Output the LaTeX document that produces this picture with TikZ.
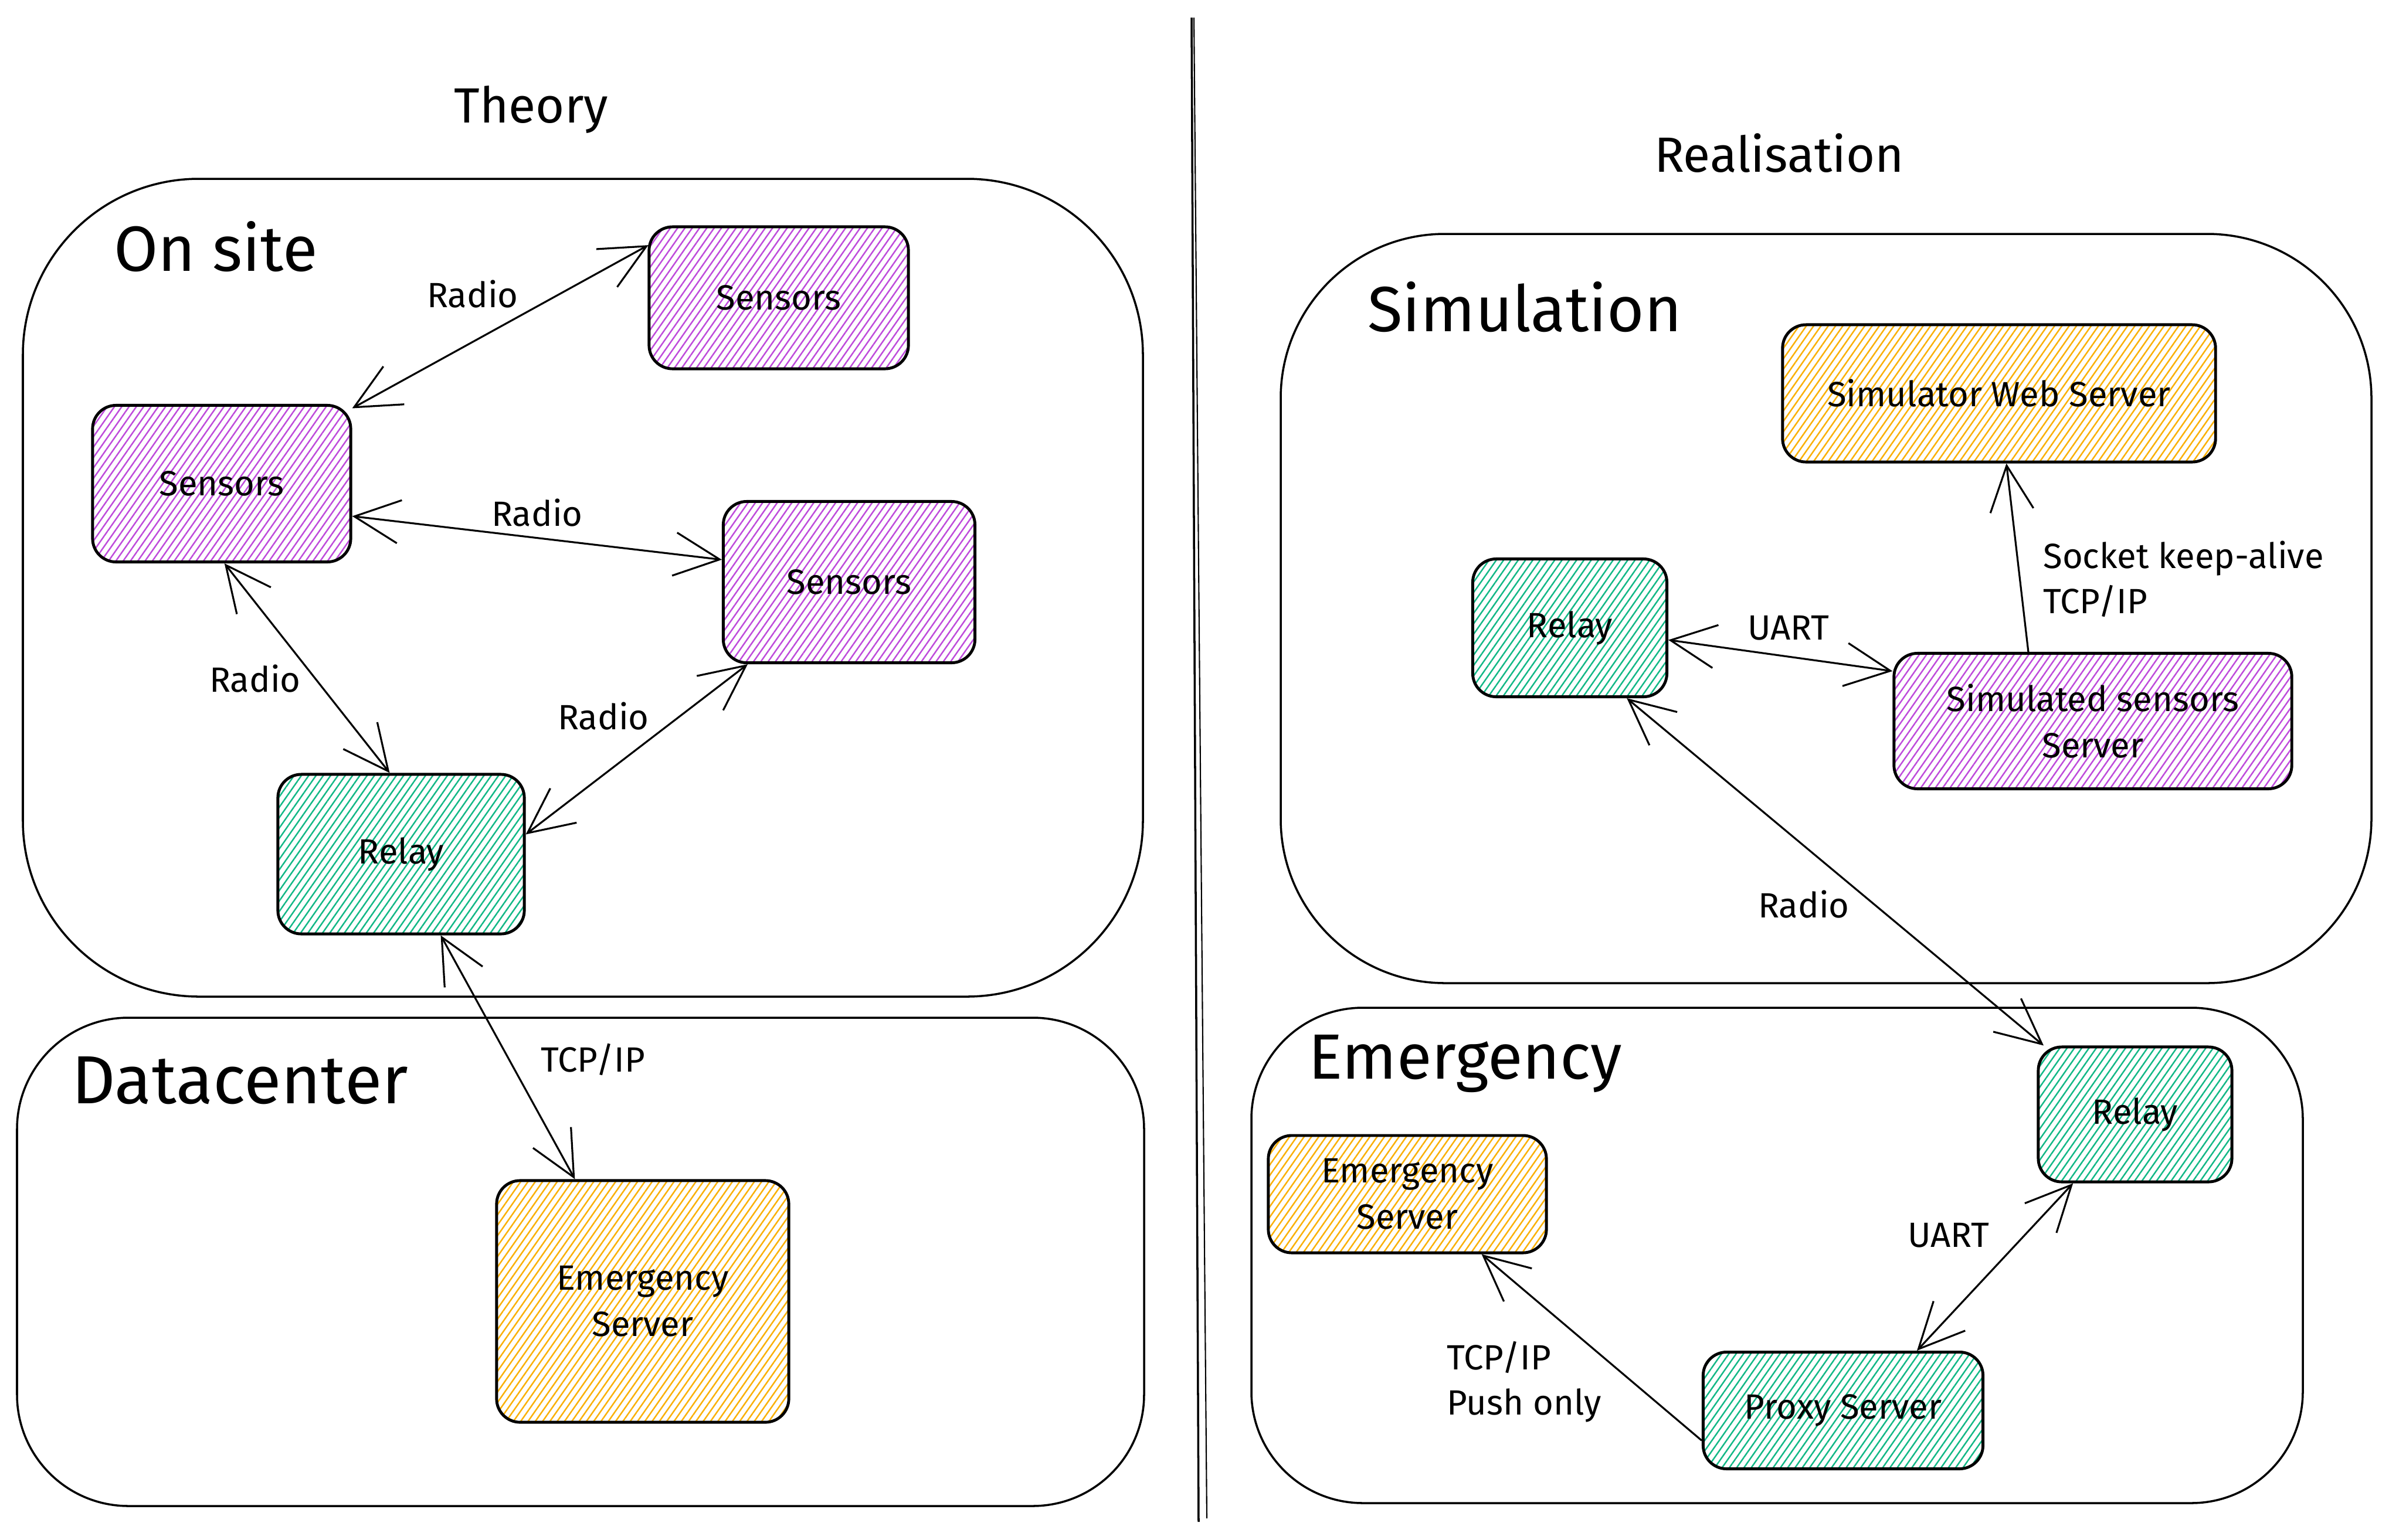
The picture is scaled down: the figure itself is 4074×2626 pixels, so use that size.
\documentclass[tikz,border=0pt]{standalone}
\usepackage{fontspec}
\setmainfont{Fira Sans}
\usetikzlibrary{arrows.meta,patterns.meta}
\definecolor{excviolet}{RGB}{190,75,219}
\definecolor{excteal}{RGB}{18,184,134}
\definecolor{excyellow}{RGB}{250,176,5}

\begin{document}
\begin{tikzpicture}[x=0.01cm, y=-0.01cm, line join=round,
        >={Straight Barb[length=22pt,width=21pt]},
        boxnode/.style={shape=rectangle, rounded corners=0.4cm, draw=black, line width=1.4pt, align=center, font=\fontsize{17}{22.5}\selectfont},
        bigvioletnode/.style={boxnode, pattern={Lines[angle=55,distance=2.9pt,line width=0.7pt]}, pattern color=excviolet},
        bigtealnode/.style={boxnode, pattern={Lines[angle=55,distance=2.9pt,line width=0.7pt]}, pattern color=excteal},
        bigyellownode/.style={boxnode, pattern={Lines[angle=55,distance=2.9pt,line width=0.7pt]}, pattern color=excyellow},
        linklabel/.style={font=\fontsize{17}{22}\selectfont, align=left},
        linkline/.style={line width=0.9pt},
        zone/.style={line width=1pt},
        zonetitle/.style={font=\fontsize{31}{36}\selectfont, anchor=base west},
        columntitle/.style={font=\fontsize{24}{28}\selectfont, anchor=base}]
        \fill[white] (0,0) rectangle (4074,2626);
        \useasboundingbox (0,0) rectangle (4074,2626);
        % Column titles and divider
        \node[columntitle] (theory) at (906,209) {Theory};
        \node[columntitle] (realisation) at (3034,293) {Realisation};
        \draw[line width=1pt] (2032,30) -- (2044,2596);
        \draw[line width=0.6pt] (2036,30) -- (2058,2590);
        % Zones
        \draw[zone, rounded corners=3cm] (39,305) rectangle (1949,1700);
        \draw[zone, rounded corners=1.9cm] (29,1736) rectangle (1951,2569);
        \draw[zone, rounded corners=2.8cm] (2184,399) rectangle (4044,1677);
        \draw[zone, rounded corners=1.9cm] (2134,1719) rectangle (3927,2564);
        \node[zonetitle] (onsite) at (182,462) {On site};
        \node[zonetitle, font=\fontsize{33}{38}\selectfont] (datacenter) at (110,1882) {Datacenter};
        \node[zonetitle] (simulation) at (2320,565) {Simulation};
        \node[zonetitle] (emergency) at (2219,1840) {Emergency};
        % Boxes
        \node[bigvioletnode, minimum width=4.42cm, minimum height=2.42cm] (sensorsT) at (1328,508) {Sensors};
        \node[bigvioletnode, minimum width=4.40cm, minimum height=2.67cm] (sensorsL) at (378,825) {Sensors};
        \node[bigvioletnode, minimum width=4.29cm, minimum height=2.75cm] (sensorsR) at (1448,993) {Sensors};
        \node[bigtealnode, minimum width=4.20cm, minimum height=2.72cm] (relayL) at (684,1457) {Relay};
        \node[bigyellownode, minimum width=4.98cm, minimum height=4.12cm] (serverL) at (1096,2220) {Emergency\\Server};
        \node[bigyellownode, minimum width=7.38cm, minimum height=2.34cm] (webserver) at (3409,671) {Simulator Web Server};
        \node[bigtealnode, minimum width=3.31cm, minimum height=2.35cm] (relaySim) at (2677,1071) {Relay};
        \node[bigvioletnode, minimum width=6.78cm, minimum height=2.31cm] (simserver) at (3569,1230) {Simulated sensors\\Server};
        \node[bigtealnode, minimum width=3.30cm, minimum height=2.30cm] (relayEm) at (3641,1901) {Relay};
        \node[bigyellownode, minimum width=4.74cm, minimum height=2.00cm] (serverR) at (2400,2037) {Emergency\\Server};
        \node[bigtealnode, minimum width=4.77cm, minimum height=1.99cm] (proxy) at (3143,2406) {Proxy Server};
        % Links
        \draw[linkline, <->] (sensorsT.158) -- (sensorsL.30);
        \draw[linkline, <->] (sensorsL.-14) -- (sensorsR.170);
        \draw[linkline, <->] (sensorsL.-88) -- (relayL.98);
        \draw[linkline, <->] (relayL.9) -- (sensorsR.219);
        \draw[linkline, <->] (relayL.-64) -- (serverL.119);
        \draw[linkline, <->] (relaySim.-7) -- (simserver.166);
        \draw[linkline, ->] (simserver.133) -- (webserver.-84);
        \draw[linkline, <->] (relaySim.-51) -- (relayEm.143);
        \draw[linkline, <->] (relayEm.228) -- (proxy.39);
        \draw[linkline, ->] (proxy.192) -- (serverR.-39);
        % Link labels
        \foreach \x/\y/\name/\txt in {806/502/radioA/Radio, 916/875/radioB/Radio, 435/1158/radioC/Radio, 1029/1222/radioD/Radio,
                1011/1807/tcpA/TCP\slash IP, 3050/1071/uartA/UART, 3076/1543/radioE/Radio, 3323/2107/uartB/UART} {
          \node[linklabel] (\name) at (\x,\y) {\txt};
        }
        \node[linklabel, anchor=west] (keepalive) at (3472,988) {Socket keep-alive\\TCP/IP};
        \node[linklabel, anchor=west] (pushonly) at (2455,2357) {TCP/IP\\Push only};
\end{tikzpicture}
\end{document}
